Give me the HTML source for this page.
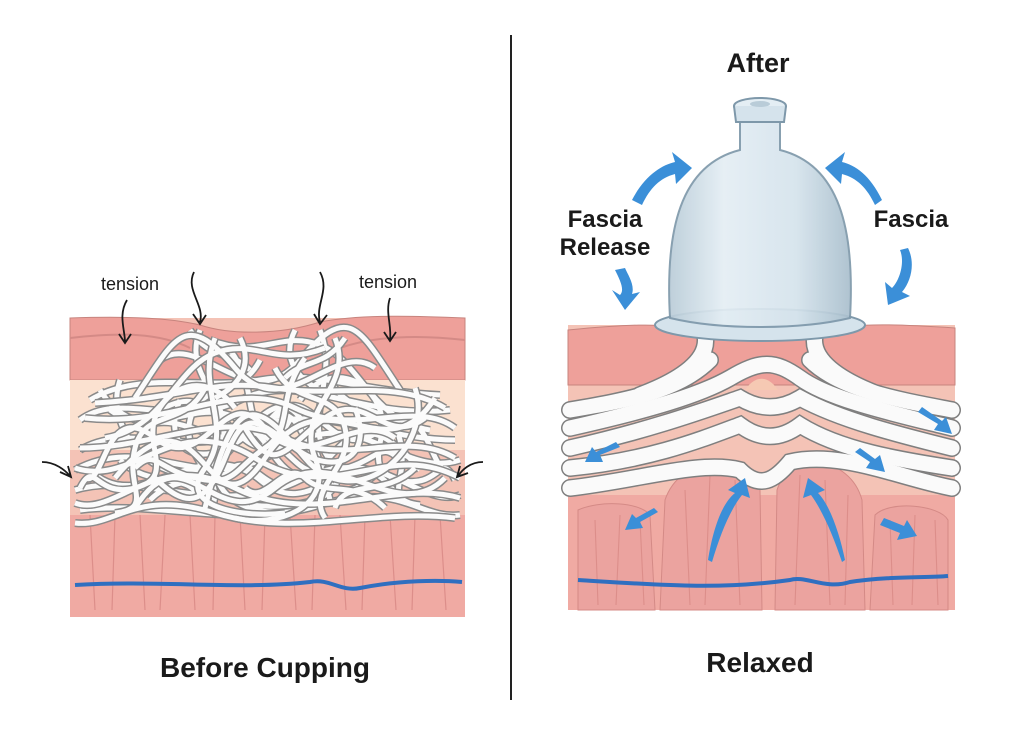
<!DOCTYPE html>
<html><head><meta charset="utf-8"><style>
html,body{margin:0;padding:0;background:#fff;}
svg{display:block}
text{font-family:"Liberation Sans",sans-serif;fill:#1a1a1a}
</style></head><body>
<svg width="1024" height="730" viewBox="0 0 1024 730" xmlns="http://www.w3.org/2000/svg">
<defs>
<linearGradient id="cup" x1="0" x2="1">
<stop offset="0" stop-color="#b9ccd8"/><stop offset="0.3" stop-color="#e4eef4"/><stop offset="0.7" stop-color="#d5e3ec"/><stop offset="1" stop-color="#a9bfcd"/></linearGradient>
<g id="tf" fill="none">
<path d="M75 470 C150 430 200 500 280 450 S400 480 460 460"/>
<path d="M75 490 C140 470 220 520 300 480 S420 510 460 495"/>
<path d="M80 510 C160 500 240 530 320 505 S420 520 460 515"/>
<path d="M80 450 C130 420 190 460 250 430 S380 440 455 440"/>
<path d="M80 420 C120 390 180 430 240 400 S360 420 450 410"/>
<path d="M90 400 C140 370 200 390 260 380 S350 390 440 395"/>
<path d="M100 390 C150 470 210 360 270 450 S330 360 420 470"/>
<path d="M120 380 C100 440 180 510 230 450 S300 380 330 500"/>
<path d="M160 360 C200 330 250 420 300 360 S360 330 400 390"/>
<path d="M200 330 C180 380 240 400 220 450 S260 520 300 510"/>
<path d="M320 330 C340 380 300 420 330 460 S290 510 250 505"/>
<path d="M210 340 C260 360 280 330 320 345 S370 420 430 430"/>
<path d="M140 430 C180 400 230 470 270 420 S330 470 380 430 S430 480 450 470"/>
<path d="M90 470 C140 520 200 430 260 480 S350 420 400 500"/>
<path d="M180 400 C160 450 200 470 240 440 S290 400 310 450 S350 500 380 470"/>
<path d="M230 350 C260 390 240 420 270 440 S300 480 340 470 S380 440 400 460"/>
<path d="M110 410 C150 440 170 380 210 410 S260 470 290 420"/>
<path d="M300 400 C330 360 370 380 380 410 S360 470 400 480 S440 450 455 480"/>
<path d="M150 500 C180 470 210 490 230 470 S270 500 290 480"/>
<path d="M260 360 C240 400 200 380 190 420 S230 480 210 510"/>
<path d="M330 380 C350 420 390 400 400 440 S380 500 420 505"/>
<path d="M120 460 C150 490 190 470 200 500"/>
<path d="M190 330 C210 360 230 350 250 370"/>
<path d="M295 330 C280 360 300 380 320 390"/>
</g>
<g id="rf" fill="none">
<path d="M570 410 C630 400 680 390 710 360 M952 410 C900 400 840 390 810 360"/>
<path d="M705 335 C710 360 680 380 640 395 M815 335 C810 360 840 380 880 395"/>
<path d="M570 428 C650 410 700 395 730 378 C760 360 775 360 800 378 C830 400 900 415 952 428"/>
<path d="M570 448 C650 430 705 410 740 398 C760 410 780 410 800 398 C840 420 900 435 952 448"/>
<path d="M570 468 C650 460 700 440 740 425 C760 440 780 440 800 425 C840 450 900 460 952 468"/>
<path d="M570 488 C640 480 700 460 740 470 C760 490 775 480 790 462 C840 450 900 478 952 488"/>
</g>
</defs>

<line x1="511" y1="35" x2="511" y2="700" stroke="#222" stroke-width="2"/>

<!-- LEFT PANEL -->
<rect x="70" y="318" width="395" height="299" fill="#f4c3b6"/>
<path d="M70 318 C130 316 170 318 200 325 C230 335 280 335 320 322 C360 314 420 316 465 318 L465 380 L70 380 Z" fill="#eea09a" stroke="#c7847e"/>
<path d="M70 338 C120 332 160 333 190 348 M340 348 C380 334 430 336 465 340" stroke="#d48a86" fill="none" stroke-width="2"/>
<rect x="70" y="380" width="395" height="70" fill="#fbe1d0"/>
<rect x="70" y="515" width="395" height="102" fill="#f0aaa3"/>
<g stroke="#dc8e8a" stroke-width="1.2">
<path d="M90 515 L95 610 M115 515 L112 610 M140 515 L145 610 M165 515 L160 610 M190 515 L195 610 M215 515 L213 610 M240 515 L245 610 M265 515 L262 610 M290 515 L296 610 M315 515 L312 610 M340 515 L346 610 M365 515 L362 610 M390 515 L396 610 M415 515 L412 610 M440 515 L446 610"/>
</g>
<path d="M75 585 C160 580 240 590 310 582 C330 578 340 592 360 588 C400 580 440 580 462 582" stroke="#2f6fc0" stroke-width="4" fill="none"/>
<use href="#tf" stroke="#8a8a8a" stroke-width="8"/>
<use href="#tf" stroke="#fbfbfb" stroke-width="5"/>
<g transform="translate(535,8) scale(-1,1)">
<use href="#tf" stroke="#8a8a8a" stroke-width="8"/>
<use href="#tf" stroke="#fbfbfb" stroke-width="5"/>
</g>

<text x="130" y="290" font-size="18" text-anchor="middle">tension</text>
<text x="388" y="288" font-size="18" text-anchor="middle">tension</text>
<g stroke="#1a1a1a" stroke-width="1.8" fill="none">
<path d="M127 300 C118 315 125 330 125 342 M119 334 L125 343 L131 334"/>
<path d="M390 298 C385 312 392 326 390 340 M384 332 L390 341 L396 332"/>
<path d="M194 272 C185 290 205 305 200 322 M193 314 L200 324 L206 315"/>
<path d="M320 272 C330 290 315 305 320 322 M314 314 L320 324 L327 315"/>
<path d="M42 462 C55 462 65 470 70 476 M60 472 L71 477 L68 466"/>
<path d="M483 462 C470 462 462 470 458 476 M468 473 L457 477 L460 466"/>
</g>
<text x="265" y="677" font-size="28" font-weight="bold" text-anchor="middle">Before Cupping</text>

<!-- RIGHT PANEL -->
<rect x="568" y="325" width="387" height="285" fill="#f4c3b6"/>
<path d="M568 330 C620 325 660 322 700 330 L820 330 C860 322 910 325 955 328 L955 385 L568 385 Z" fill="#eea09a" stroke="#c7847e"/>
<rect x="568" y="495" width="387" height="115" fill="#f0aaa3"/>
<path d="M578 510 C600 500 640 502 650 515 L655 610 L578 610 Z M665 500 C680 455 745 450 760 490 L762 610 L660 610 Z M777 490 C790 450 850 455 862 500 L865 610 L775 610 Z M875 515 C890 500 940 505 948 520 L948 610 L870 610 Z" fill="#eba39f" stroke="#d48a86"/>
<g stroke="#dc8e8a" stroke-width="1.1">
<path d="M595 520 L598 605 M620 515 L616 605 M640 520 L644 605 M685 490 L690 605 M710 475 L705 605 M735 480 L740 605 M800 475 L795 605 M825 480 L830 605 M848 495 L845 605 M890 520 L893 605 M915 515 L912 605 M935 520 L938 605"/>
</g>
<path d="M578 580 C660 585 720 590 790 580 C805 575 825 590 850 582 C890 576 925 578 948 576" stroke="#2f6fc0" stroke-width="4" fill="none"/>
<g stroke-linecap="round">
<use href="#rf" stroke="#7f7f7f" stroke-width="18"/>
<use href="#rf" stroke="#fafafa" stroke-width="15"/>
</g>
<path d="M745 390 C755 375 768 375 778 390 Z" fill="#f6c9b3"/>

<!-- cup -->
<ellipse cx="760" cy="325" rx="105" ry="16" fill="#d5e3ec" stroke="#7e98aa" stroke-width="2"/>
<path d="M670 318 C665 230 680 165 740 150 L740 120 L780 120 L780 150 C840 165 855 230 850 318 C800 330 720 330 670 318 Z" fill="url(#cup)" stroke="#7e98aa" stroke-width="2" opacity="0.92"/>
<ellipse cx="760" cy="106" rx="26" ry="8" fill="#e4eef4" stroke="#7e98aa" stroke-width="2"/>
<path d="M734 106 L736 122 L784 122 L786 106" fill="#d5e3ec" stroke="#7e98aa" stroke-width="2"/>
<ellipse cx="760" cy="104" rx="10" ry="3" fill="#b9ccd8"/>

<!-- blue arrows -->
<g fill="#3b8fd8">
<path d="M632 200 C645 175 662 165 675 162 L672 152 L692 168 L676 184 L675 174 C660 178 650 188 642 205 Z"/>
<path d="M882 200 C870 175 855 165 842 162 L845 152 L825 168 L841 184 L842 174 C857 178 867 188 875 205 Z"/>
<path d="M615 270 C620 280 625 290 620 295 L612 290 L625 310 L640 292 L632 294 C635 285 628 275 625 268 Z"/>
<path d="M900 250 C905 262 900 280 892 288 L885 282 L888 305 L910 296 L902 292 C912 280 915 262 908 248 Z"/>
<path d="M918 412 L938 424 L934 430 L952 434 L946 417 L942 421 L922 407 Z"/>
<path d="M620 447 L600 455 L603 462 L585 462 L592 447 L596 452 L616 442 Z"/>
<path d="M855 452 L870 462 L866 468 L885 472 L880 455 L875 459 L860 448 Z"/>
<path d="M658 512 L640 522 L643 528 L625 530 L632 514 L636 518 L654 508 Z"/>
<path d="M880 525 L900 533 L897 540 L917 536 L907 520 L904 526 L884 518 Z"/>
<path d="M708 560 C712 535 720 505 735 493 L728 490 L745 478 L750 498 L742 495 C730 510 720 535 712 562 Z"/>
<path d="M845 560 C840 535 830 505 818 493 L825 490 L808 478 L803 498 L811 495 C822 510 833 535 842 562 Z"/>
</g>

<text x="758" y="72" font-size="27" font-weight="bold" text-anchor="middle">After</text>
<text x="605" y="227" font-size="24" font-weight="bold" text-anchor="middle">Fascia</text>
<text x="605" y="255" font-size="24" font-weight="bold" text-anchor="middle">Release</text>
<text x="911" y="227" font-size="24" font-weight="bold" text-anchor="middle">Fascia</text>
<text x="760" y="672" font-size="28" font-weight="bold" text-anchor="middle">Relaxed</text>
</svg>
</body></html>
